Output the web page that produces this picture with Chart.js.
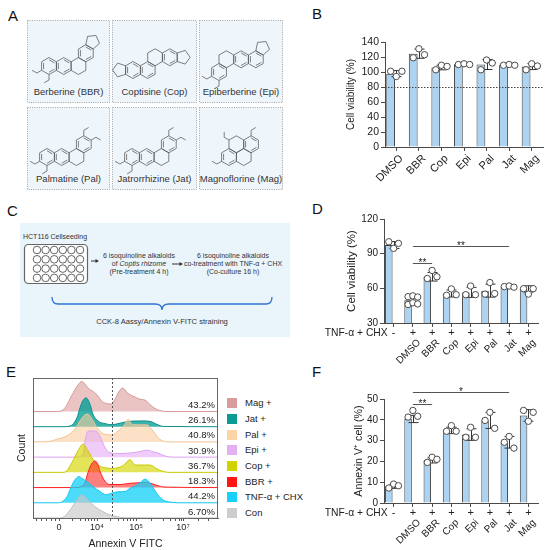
<!DOCTYPE html>
<html><head><meta charset="utf-8">
<script src="https://cdn.jsdelivr.net/npm/chart.js@4.4.1/dist/chart.umd.min.js"></script>
<style>
html,body{margin:0;padding:0;background:#fff}
body{width:550px;height:550px;position:relative;overflow:hidden;font-family:'Liberation Sans',Arial,sans-serif;color:#222}
.lbl{position:absolute;font-size:15px;line-height:15px;color:#111}
canvas{position:absolute}
#schem{position:absolute;left:0;top:0}
.leg{position:absolute;font-size:9.5px;line-height:11px;color:#222;white-space:nowrap}
.sw{position:absolute;width:10px;height:10px}
.xl{position:absolute;width:60px;text-align:right;white-space:nowrap;color:#222;transform-origin:100% 50%;transform:rotate(-45deg)}
</style></head><body>
<svg id="schem" width="300" height="372" xmlns="http://www.w3.org/2000/svg"></svg>
<div class="lbl" style="left:8px;top:8px">A</div>
<div class="lbl" style="left:312px;top:6px">B</div>
<div class="lbl" style="left:7px;top:203px">C</div>
<div class="lbl" style="left:312px;top:201px">D</div>
<div class="lbl" style="left:6px;top:364px">E</div>
<div class="lbl" style="left:312px;top:364px">F</div>
<div id="legE"></div>
<script>
// ================= DATA =================
const moleculeNames = ['Berberine (BBR)','Coptisine (Cop)','Epiberberine (Epi)','Palmatine (Pal)','Jatrorrhizine (Jat)','Magnoflorine (Mag)'];

// Panel B
const catsB = ['DMSO','BBR','Cop','Epi','Pal','Jat','Mag'];
const barB  = [97.8,124.4,106,110.5,110,109.5,107.3];
const repsB = [[101,94,101],[119,131,123],[103,109,107.5],[110,111,110],[103,116,112],[109,110,109],[103,111,108]];
const refB = 80;

// Panels D and F
const catsDF  = ['','DMSO','BBR','Cop','Epi','Pal','Jat','Mag'];
const treatDF = ['-','+','+','+','+','+','+','+'];
const treatLabel = 'TNF-\u03b1 + CHX';
const barD  = [97.5,49.6,70,55.5,56.5,58,61.5,59.5];
const repsD = [[100.3,94.6,98.9],[52.8,53.5,52.5,46,47.5,46.5],[68.5,75.5,70],[54,59.5,54.5],[54.5,62,54.5],[55,65,55.5],[61.5,62,61],[59.7,55,59.7]];
const sigD  = [{a:1,b:6,level:96.3,text:'**'},{a:1,b:2,level:81.9,text:'**'}];
const barF  = [8,40.4,20.5,34.9,32.9,39.7,29.2,42.1];
const repsF = [[7.2,9.1,8.3],[41.3,44.5,41.7],[19.5,22,21],[34.5,37.2,34.5],[31.6,36.4,31.6],[39.7,43.6,35.9],[29.2,32,26.4],[44.5,39.3,43.6]];
const sigF  = [{a:1,b:6,level:53.2,text:'*'},{a:1,b:2,level:47.6,text:'**'}];

// Panel E (flow histograms, channel units 0..185, counts)
const samplesE = ['Con','TNF-\u03b1 + CHX','BBR +','Cop +','Epi +','Pal +','Jat +','Mag +'];
const pctE     = ['6.70%','44.2%','18.3%','36.7%','30.9%','40.8%','26.1%','43.2%'];
const conX = [0,27,31,37,41,44,48,51,55,62,70,77,84,91,185];
const conY = [0,0,8,53,90,118,150,145,118,74,41,20,9,1,0];
const tnfX = [0,25,30,34,37,40,43,46,49,54,60,67,73,79,85,92,97,102,107,112,117,121,124,127,131,137,145,185];
const tnfY = [0,0,10,40,85,130,160,173,160,140,107,74,53,64,72,74,95,110,130,156,130,90,60,35,15,5,0,0];
const bbrX = [0,44,48,52,55,59,62,65,67,72,77,87,97,107,114,119,125,132,185];
const bbrY = [0,0,7,33,100,160,175,150,107,41,20,20,28,32,35,25,12,3,0];
const copX = [0,30,34,39,45,50,55,62,70,80,90,97,102,110,117,124,130,136,185];
const copY = [0,0,11,66,142,186,142,66,33,26,44,83,48,48,48,22,6,0,0];
const epiX = [0,45,50,52,55,58,63,67,72,77,87,100,108,114,120,124,130,135,140,185];
const epiY = [0,0,18,105,170,172,170,138,62,29,24,29,38,46,35,29,12,3,0,0];
const palX = [0,15,24,34,42,47,52,55,60,65,72,79,85,92,95,99,104,114,120,125,130,136,185];
const palY = [0,2,18,40,84,138,178,182,138,84,50,46,72,116,149,116,112,112,72,29,6,0,0];
const jatX = [0,30,37,44,47,50,53,57,60,65,72,79,85,92,100,110,117,124,130,185];
const jatY = [0,0,4,60,125,173,190,147,81,37,20,13,20,30,37,38,35,15,2,0];
const magX = [0,22,28,30,34,37,40,44,47,49,52,55,59,64,69,74,78,82,85,88,90,94,97,102,107,112,117,122,127,133,185];
const magY = [0,0,3,11,44,85,120,165,190,197,180,154,135,110,66,52,48,80,120,148,154,125,110,95,80,75,45,20,6,0,0];
const histX = [conX,tnfX,bbrX,copX,epiX,palX,jatX,magX];
const histY = [conY,tnfY,bbrY,copY,epiY,palY,jatY,magY];
const gateE = 79;
const majorTicksE = [26,64,103,150];
const majorLabelsE = ['0','10\u2074','10\u2075','10\u2077'];
const minorTicksE = [3,8,13,18,22,39,47,52,55,58,61,77,85,90,94,97,100,118,130,137,142,146,148,165,175];

// ================= STYLE =================
Chart.defaults.font.family = "'Liberation Sans', Arial, sans-serif";
Chart.defaults.color = '#222';
const BAR = '#acd3f1', EDGE = '#3c3c3c', AX = '#4a4a4a';
const lineE = ['#bdbdbd','#12c6ef','#ff2020','#c9c900','#dca2ee','#f4c290','#0b8f88','#d79a9a'];
const fillE = ['rgba(200,200,200,0.65)','rgba(16,208,248,0.75)','rgba(255,40,40,0.6)','rgba(214,214,0,0.65)','rgba(228,170,245,0.6)','rgba(252,205,160,0.6)','rgba(8,160,152,0.8)','rgba(220,155,155,0.6)'];
const swatchE = ['#cdcdcd','#16d2fb','#ff1414','#d2d200','#e4b0f4','#fdd3a8','#0c9b93','#d99c9c'];

// ================= SCHEMATIC (A, C) =================
const R = 8.5, DXH = R*Math.sqrt(3);
function ringC(base,a,b){return [base[0]+a*DXH+b*DXH/2, base[1]-b*1.5*R];}
function hexPts(c){const p=[];for(let k=0;k<6;k++){const t=(60*k-90)*Math.PI/180;p.push([c[0]+R*Math.cos(t),c[1]+R*Math.sin(t)]);}return p;}
function pentPts(c,k){const hp=hexPts(c);const v1=hp[k],v2=hp[(k+1)%6];const mx=(v1[0]+v2[0])/2,my=(v1[1]+v2[1])/2;const ang=(60*k-60)*Math.PI/180;const d=0.688*R;const pc=[mx+d*Math.cos(ang),my+d*Math.sin(ang)];const Rp=0.8507*R;const b=ang+Math.PI;const pts=[];for(let j=0;j<5;j++){const t=b+(36+72*j)*Math.PI/180;pts.push([pc[0]+Rp*Math.cos(t),pc[1]+Rp*Math.sin(t)]);}return pts;}
const P = pts => pts.map(p=>p[0].toFixed(1)+','+p[1].toFixed(1)).join(' ');
const molShapes = [
 {base:[22,46], rings:[[0,0],[1,0],[2,0],[2,1]], arom:[0,1,3], pents:[[3,0]], stubs:[[0,4],[0,3]]},
 {base:[21,50], rings:[[0,0],[1,0],[1,1],[2,1]], arom:[0,1,3], pents:[[0,4],[3,1]], stubs:[]},
 {base:[20,52], rings:[[0,0],[0,1],[1,1],[2,1]], arom:[0,2,3], pents:[[3,0]], stubs:[[0,4],[0,3]]},
 {base:[20,50], rings:[[0,0],[1,0],[2,0],[2,1]], arom:[0,1,3], pents:[], stubs:[[0,4],[0,3],[3,0],[3,1]]},
 {base:[20,50], rings:[[0,0],[1,0],[2,0],[2,1]], arom:[0,1,3], pents:[], stubs:[[0,4],[0,3],[3,0],[3,1]]},
 {base:[30,50], rings:[[0,0],[1,0],[0,1],[1,1]], arom:[0,3], pents:[], stubs:[[0,4],[2,5],[3,0]]}
];
const boxesA = [[27,20,83,83],[112,20,85,83],[199,20,84,83],[27,107,83,83],[112,107,85,83],[199,107,84,83]];
let s = '';
boxesA.forEach((b,i)=>{
  s += `<rect x="${b[0]+0.5}" y="${b[1]+0.5}" width="${b[2]-1}" height="${b[3]-1}" fill="#eef6fc" stroke="#8a8a8a" stroke-width="0.8" stroke-dasharray="1,1.3"/>`;
  const m = molShapes[i];
  let g = `<g transform="translate(${b[0]},${b[1]})" fill="none" stroke="#555" stroke-width="0.75">`;
  const cs = m.rings.map(r=>ringC(m.base,r[0],r[1]));
  cs.forEach((c,ri)=>{
    const hp = hexPts(c);
    g += `<polygon points="${P(hp)}"/>`;
    if (m.arom.includes(ri)) {
      for (let k=0;k<6;k+=2){const v1=hp[k],v2=hp[(k+1)%6];const f=0.74;
        const a1=[c[0]+(v1[0]-c[0])*f,c[1]+(v1[1]-c[1])*f],a2=[c[0]+(v2[0]-c[0])*f,c[1]+(v2[1]-c[1])*f];
        g += `<line x1="${a1[0].toFixed(1)}" y1="${a1[1].toFixed(1)}" x2="${a2[0].toFixed(1)}" y2="${a2[1].toFixed(1)}"/>`;}
    }
  });
  m.pents.forEach(pp=>{ g += `<polygon points="${P(pentPts(cs[pp[0]],pp[1]))}"/>`; });
  m.stubs.forEach(st=>{
    const c = cs[st[0]]; const t=(60*st[1]-90)*Math.PI/180; const v=hexPts(c)[st[1]];
    const p1=[v[0]+5.5*Math.cos(t),v[1]+5.5*Math.sin(t)]; const t2=t+Math.PI/3; const p2=[p1[0]+5.5*Math.cos(t2),p1[1]+5.5*Math.sin(t2)];
    g += `<polyline points="${P([v,p1,p2])}"/>`;
  });
  g += '</g>';
  s += g;
  s += `<text x="${b[0]+b[2]/2}" y="${b[1]+74.5}" text-anchor="middle" font-size="9.5" fill="#333" font-family="Liberation Sans, Arial">${moleculeNames[i]}</text>`;
});
// panel C
s += `<rect x="20" y="223" width="270" height="114" fill="#eaf4fb"/>`;
const tf = 'font-family="Liberation Sans, Arial" fill="#333"';
s += `<text x="23" y="238.5" font-size="7" ${tf}>HCT116 Cellseeding</text>`;
s += `<rect x="24.5" y="244.5" width="63" height="39" rx="4" fill="#fff" stroke="#666" stroke-width="1.2"/>`;
for (let r=0;r<4;r++) for (let c=0;c<6;c++) s += `<circle cx="${37+c*8.6}" cy="${250+r*9.3}" r="3.8" fill="#fff" stroke="#555" stroke-width="0.9"/>`;
s += `<line x1="91" y1="261" x2="97" y2="261" stroke="#333" stroke-width="1"/><polygon points="99,261 95.5,259 95.5,263" fill="#333"/>`;
s += `<line x1="172" y1="264" x2="181" y2="264" stroke="#333" stroke-width="1"/><polygon points="183,264 179.5,262 179.5,266" fill="#333"/>`;
s += `<text x="139" y="257.5" font-size="7" text-anchor="middle" ${tf}>6 isoquinoline alkaloids</text>`;
s += `<text x="139" y="265.5" font-size="7" text-anchor="middle" ${tf}>of <tspan font-style="italic">Coptis rhizome</tspan></text>`;
s += `<text x="139" y="273.5" font-size="7" text-anchor="middle" ${tf}>(Pre-treatment 4 h)</text>`;
s += `<text x="233" y="257.5" font-size="7" text-anchor="middle" ${tf}>6 isoquinoline alkaloids</text>`;
s += `<text x="233" y="265.5" font-size="7" text-anchor="middle" ${tf}>co-treatment with TNF-\u03b1 + CHX</text>`;
s += `<text x="233" y="273.5" font-size="7" text-anchor="middle" ${tf}>(Co-culture 16 h)</text>`;
s += `<path d="M52,297 Q52,304 58,304 L155,304 Q162,304 162,310 Q162,304 169,304 L266,304 Q272,304 272,297" fill="none" stroke="#2f72d2" stroke-width="1.3"/>`;
s += `<text x="162" y="324" font-size="7.6" text-anchor="middle" ${tf}>CCK-8 Aassy/Annexin V-FITC straining</text>`;
document.getElementById('schem').innerHTML = s;

// ================= BAR PANELS =================
function jit(j,m){ const o=[-0.25,0,0.25]; return o[j%3] * (m>=3?1:0); }
function sd(a){ const m=a.reduce((p,q)=>p+q,0)/a.length; return Math.sqrt(a.reduce((p,q)=>p+(q-m)*(q-m),0)/(a.length-1)); }

const errPlugin = { id:'err', beforeDatasetDraw(chart,args,o){
  if (args.index!==1) return;
  const ctx=chart.ctx, x=chart.scales.x, y=chart.scales.y;
  ctx.save(); ctx.strokeStyle='#333'; ctx.lineWidth=1;
  o.reps.forEach((arr,i)=>{ const m=o.means[i], e=sd(arr), px=Math.round(x.getPixelForValue(i))+0.5;
    const y1=y.getPixelForValue(m+e), y0=y.getPixelForValue(m-e);
    ctx.beginPath(); ctx.moveTo(px,y0); ctx.lineTo(px,y1);
    ctx.moveTo(px-5,y1); ctx.lineTo(px+5,y1); ctx.moveTo(px-5,y0); ctx.lineTo(px+5,y0); ctx.stroke(); });
  ctx.restore(); } };
const annPlugin = { id:'ann', afterDraw(chart,args,o){
  const ctx=chart.ctx, x=chart.scales.x, y=chart.scales.y, ca=chart.chartArea;
  ctx.save();
  if (o.ref!=null){ ctx.strokeStyle='#444'; ctx.lineWidth=1; ctx.setLineDash([1.5,1.5]);
    const py=Math.round(y.getPixelForValue(o.ref))+0.5; ctx.beginPath(); ctx.moveTo(ca.left,py); ctx.lineTo(ca.right,py); ctx.stroke(); ctx.setLineDash([]); }
  (o.sig||[]).forEach(sg=>{ const py=Math.round(y.getPixelForValue(sg.level))+0.5;
    ctx.strokeStyle='#555'; ctx.lineWidth=1; ctx.beginPath(); ctx.moveTo(x.getPixelForValue(sg.a),py); ctx.lineTo(x.getPixelForValue(sg.b),py); ctx.stroke();
    ctx.fillStyle='#222'; ctx.font="10px 'Liberation Sans', Arial"; ctx.textAlign='center'; ctx.textBaseline='alphabetic';
    ctx.fillText(sg.text,(x.getPixelForValue(sg.a)+x.getPixelForValue(sg.b))/2,py+2.5); });
  if (o.treat){ ctx.fillStyle='#222'; ctx.font="11px 'Liberation Sans', Arial"; ctx.textBaseline='middle'; ctx.textAlign='center';
    o.treat.forEach((t,i)=>ctx.fillText(t, x.getPixelForValue(i), ca.bottom+10));
    ctx.textAlign='right'; ctx.font="10.3px 'Liberation Sans', Arial"; ctx.fillText(o.treatLabel, x.getPixelForValue(0)-6, ca.bottom+10); }
  ctx.restore(); } };

function barPanel(box, cfg){
  const cv=document.createElement('canvas'); cv.width=box.w; cv.height=box.h;
  cv.style.left=box.x+'px'; cv.style.top=box.y+'px'; document.body.appendChild(cv);
  const n=cfg.labels.length, pts=[];
  cfg.reps.forEach((arr,i)=>arr.forEach((v,j)=>pts.push({x:i+jit(j,arr.length), y:v})));
  const chart = new Chart(cv,{
    data:{labels:cfg.labels, datasets:[
      {type:'bar', data:cfg.means, backgroundColor:BAR, borderColor:EDGE, borderWidth:1, barPercentage:0.78, categoryPercentage:1, order:1},
      {type:'scatter', data:pts, xAxisID:'xp', pointRadius:3.2, pointBackgroundColor:'#fff', pointBorderColor:'#4a4a4a', pointBorderWidth:1, order:0}
    ]},
    options:{responsive:false, animation:false, events:[],
      layout:{padding:{left:box.pl, right:box.pr, top:box.pt, bottom:0}},
      plugins:{legend:{display:false}, tooltip:{enabled:false},
        err:{reps:cfg.reps, means:cfg.means},
        ann:{ref:cfg.ref, sig:cfg.sig, treat:cfg.treat, treatLabel:cfg.treatLabel}},
      scales:{
        x:{type:'category', offset:true, grid:{drawOnChartArea:false, offset:false, tickLength:4, color:AX}, border:{color:AX},
           ticks:{display:false, autoSkip:false},
           afterFit:sc=>{sc.height=box.xh;}},
        xp:{type:'linear', display:false, min:-0.5, max:n-0.5},
        y:{min:cfg.min, max:cfg.max, grid:{drawOnChartArea:false, tickLength:4, color:AX}, border:{color:AX},
           ticks:{stepSize:cfg.step, autoSkip:false, font:{size:box.yf}, padding:2, color:'#222'},
           title:{display:true, text:cfg.title, font:{size:box.tf}, padding:0, color:'#222'},
           afterFit:sc=>{sc.width=box.yw;}}
      }},
    plugins:[errPlugin, annPlugin]
  });
  // rotated category labels placed at the scale's tick positions
  const xs = chart.scales.x, ca = chart.chartArea;
  cfg.labels.forEach((lb,i)=>{ if(!lb) return;
    const d=document.createElement('div'); d.className='xl'; d.textContent=lb;
    d.style.fontSize=box.xf+'px'; d.style.lineHeight=box.xf+'px';
    d.style.left=(box.x + xs.getPixelForValue(i) + box.ldx - 60)+'px';
    d.style.top=(box.y + ca.bottom + box.ldy - box.xf/2)+'px';
    document.body.appendChild(d); });
}
barPanel({x:320,y:25,w:230,h:175,pl:25,pr:7,pt:17,yw:40,xh:53,xf:11,ldx:5,ldy:9,yf:10.5,tf:10},
  {labels:catsB, means:barB, reps:repsB, min:0, max:140, step:20, title:'Cell viability (%)', ref:refB});
barPanel({x:318,y:195,w:232,h:180,pl:27,pr:12,pt:24,yw:39,xh:52,xf:10,ldx:6,ldy:18,yf:10,tf:11.5},
  {labels:catsDF, means:barD, reps:repsD, min:30, max:120, step:30, title:'Cell viability (%)', sig:sigD, treat:treatDF, treatLabel:treatLabel});
barPanel({x:318,y:372,w:232,h:178,pl:35,pr:12,pt:27,yw:31,xh:47,xf:10,ldx:6,ldy:18,yf:10,tf:10.7},
  {labels:catsDF, means:barF, reps:repsF, min:0, max:50, step:10, title:'Annexin V\u207a cell (%)', sig:sigF, treat:treatDF, treatLabel:treatLabel});

// ================= PANEL E =================
const SPACING = 100;
const eDecor = { id:'eDecor', afterDatasetsDraw(chart){
  const ctx=chart.ctx, ca=chart.chartArea, x=chart.scales.x, y=chart.scales.y;
  ctx.save();
  ctx.strokeStyle='#555'; ctx.lineWidth=1; ctx.setLineDash([2,2]);
  const gx=Math.round(x.getPixelForValue(gateE))+0.5;
  ctx.beginPath(); ctx.moveTo(gx,ca.top); ctx.lineTo(gx,ca.bottom); ctx.stroke(); ctx.setLineDash([]);
  ctx.fillStyle='#222'; ctx.font="9.5px 'Liberation Sans', Arial"; ctx.textAlign='right'; ctx.textBaseline='alphabetic';
  pctE.forEach((t,i)=>ctx.fillText(t, ca.right-3, y.getPixelForValue(i*SPACING)-3.5));
  ctx.strokeStyle='#666'; ctx.strokeRect(Math.round(ca.left)+0.5, Math.round(ca.top)+0.5, Math.round(ca.right-ca.left)-1, Math.round(ca.bottom-ca.top));
  ctx.restore(); } };
const cvE=document.createElement('canvas'); cvE.width=225; cvE.height=188; cvE.style.left='0px'; cvE.style.top='362px'; document.body.appendChild(cvE);
new Chart(cvE,{
  type:'line',
  data:{datasets: samplesE.map((nm,i)=>({
    label:nm, data: histX[i].map((xv,k)=>({x:xv, y:i*SPACING + histY[i][k]})),
    fill:{value:i*SPACING}, backgroundColor:fillE[i], borderColor:lineE[i], borderWidth:1,
    pointRadius:0, cubicInterpolationMode:'monotone'}))},
  options:{responsive:false, animation:false, events:[],
    layout:{padding:{left:16, right:7, top:16, bottom:0}},
    plugins:{legend:{display:false}, tooltip:{enabled:false}},
    scales:{
      x:{type:'linear', min:0, max:185,
         afterBuildTicks:sc=>{sc.ticks=majorTicksE.concat(minorTicksE).sort((a,b)=>a-b).map(v=>({value:v}));},
         ticks:{autoSkip:false, maxRotation:0, font:{size:9}, padding:1, color:'#222',
           callback:v=>{const k=majorTicksE.indexOf(v); return k>=0?majorLabelsE[k]:'';}},
         grid:{drawOnChartArea:false, tickLength:3, color:'#555'}, border:{color:'#666'},
         title:{display:true, text:'Annexin V FITC', font:{size:10.5}, padding:0, color:'#222'},
         afterFit:sc=>{sc.height=32;}},
      y:{min:0, max:920, ticks:{display:false}, grid:{display:false}, border:{color:'#666'},
         title:{display:true, text:'Count', font:{size:10.5}, padding:0, color:'#222'},
         afterFit:sc=>{sc.width=17;}}
    }},
  plugins:[eDecor]
});
// legend for E (top to bottom: Mag .. Con)
const legRows=[403,419,435,450,466,482,497,513];
let lh='';
for (let r=0;r<samplesE.length;r++){ const i=samplesE.length-1-r; const cy=legRows[r];
  lh+=`<div class="sw" style="left:227px;top:${cy-5}px;background:${swatchE[i]}"></div>`;
  lh+=`<div class="leg" style="left:245px;top:${cy-6}px">${samplesE[i]}</div>`; }
document.getElementById('legE').innerHTML=lh;
</script>
</body></html>
